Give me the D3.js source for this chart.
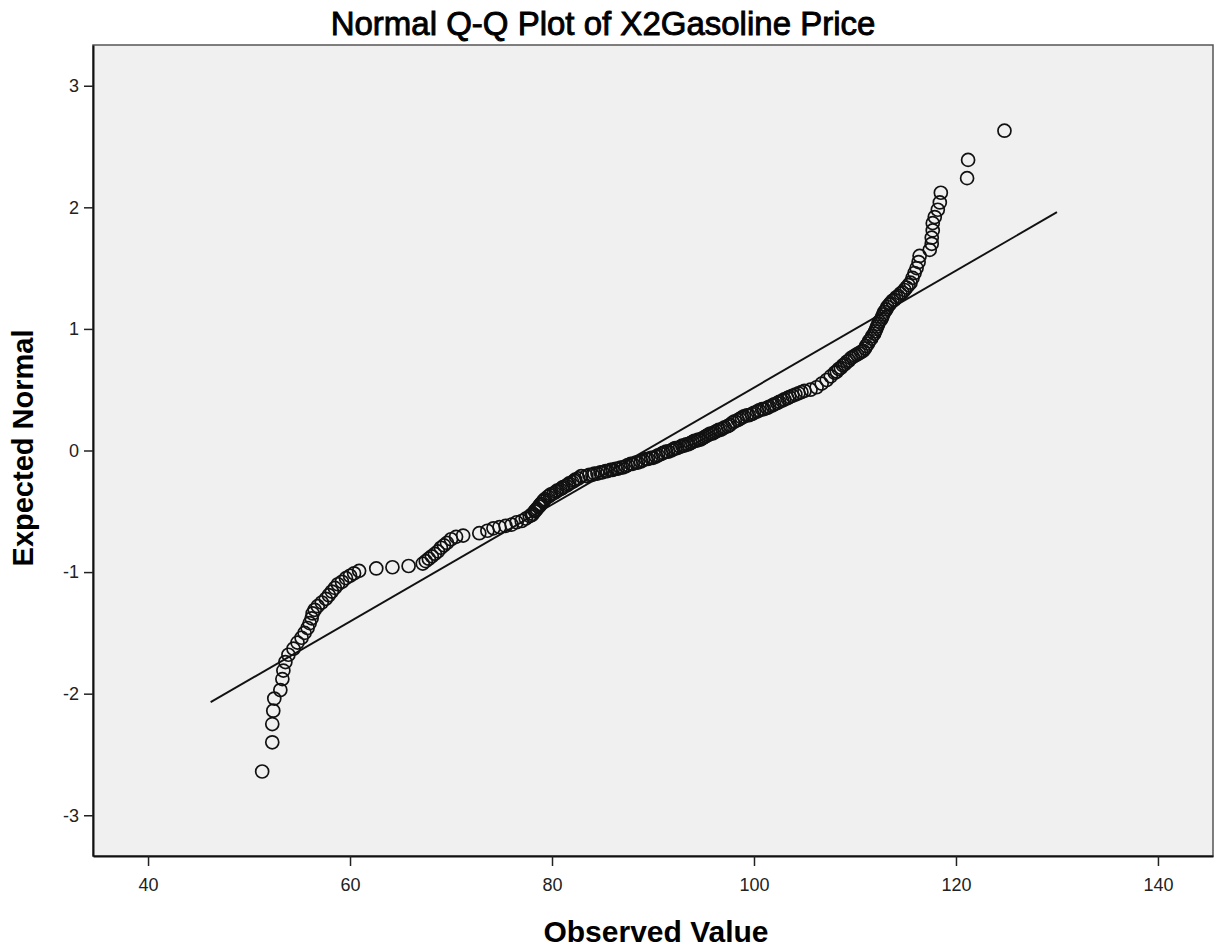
<!DOCTYPE html>
<html>
<head>
<meta charset="utf-8">
<script src="https://cdn.jsdelivr.net/npm/d3@7"></script>
<style>
  body { margin: 0; background: #fff; }
  text { font-family: "Liberation Sans", Arial, sans-serif; }
</style>
</head>
<body>
<svg id="chart" width="1217" height="947"></svg>
<script>
var observed = [
  51.3, 52.3, 52.3, 52.4, 52.5, 53.1, 53.3, 53.4, 53.6, 53.9,
  54.4, 54.8, 55.2, 55.5, 55.8, 56.0, 56.2, 56.3, 56.5, 56.8,
  57.2, 57.6, 57.9, 58.2, 58.5, 58.8, 59.2, 59.6, 60.0, 60.4,
  60.9, 62.6, 64.2, 65.8, 67.2, 67.5, 67.8, 68.1, 68.4, 68.7,
  69.0, 69.3, 69.6, 70.0, 70.5, 71.2, 72.8, 73.6, 74.2, 74.8,
  75.4, 76.0, 76.5, 77.0, 77.4, 77.8, 78.0, 78.1, 78.3, 78.4,
  78.5, 78.7, 78.8, 78.9, 79.1, 79.2, 79.3, 79.6, 79.8, 79.9,
  80.2, 80.4, 80.5, 80.8, 81.0, 81.1, 81.4, 81.6, 81.7, 82.0,
  82.2, 82.3, 82.6, 82.9, 83.4, 84.0, 84.5, 85.0, 85.5, 86.0,
  86.5, 87.0, 87.5, 88.0, 88.5, 89.0, 89.5, 90.0, 90.5, 91.0,
  91.5, 92.0, 92.4, 92.9, 93.3, 93.7, 94.1, 94.5, 94.9, 95.3,
  95.7, 96.1, 96.5, 96.9, 97.4, 97.9, 98.4, 98.8, 99.3, 99.8,
  100.3, 100.8, 101.3, 101.8, 102.3, 102.8, 103.3, 103.8, 104.4, 105.0,
  105.6, 106.2, 106.7, 107.2, 107.6, 108.0, 108.2, 108.4, 108.6, 108.8,
  109.0, 109.2, 109.4, 109.6, 109.8, 110.0, 110.2, 110.4, 110.6, 110.8,
  111.0, 111.1, 111.3, 111.4, 111.6, 111.7, 111.9, 112.0, 112.1, 112.2,
  112.3, 112.4, 112.6, 112.7, 112.8, 112.9, 113.1, 113.2, 113.4, 113.5,
  113.7, 113.9, 114.1, 114.3, 114.5, 114.7, 114.9, 115.1, 115.3, 115.5,
  115.7, 115.9, 116.1, 116.3, 116.4, 117.4, 117.6, 117.6, 117.7, 117.7,
  117.9, 118.2, 118.4, 118.5, 121.1, 121.2, 124.8,
  // extra points inside the dense middle band
  83.7, 84.2, 84.8, 85.3, 85.8, 86.3, 86.8, 87.3, 87.8, 88.3,
  88.8, 89.3, 89.8, 90.3, 90.8, 91.3, 91.8, 92.2, 92.7, 93.1,
  93.5, 93.9, 94.3, 94.7, 95.1, 95.5, 95.9, 96.3, 96.7, 97.1,
  97.6, 98.1, 98.6, 99.0, 99.5, 100.0, 100.5, 101.0, 101.5, 102.0,
  102.5, 103.0, 103.5, 104.1, 104.7
];
var expected = [
  -2.64, -2.40, -2.25, -2.14, -2.04, -1.97, -1.88, -1.81, -1.74, -1.68,
  -1.63, -1.58, -1.54, -1.50, -1.46, -1.42, -1.38, -1.34, -1.31, -1.28,
  -1.25, -1.22, -1.19, -1.16, -1.13, -1.10, -1.08, -1.05, -1.03, -1.01,
  -0.99, -0.97, -0.96, -0.95, -0.93, -0.91, -0.89, -0.87, -0.85, -0.83,
  -0.80, -0.78, -0.76, -0.73, -0.71, -0.70, -0.68, -0.66, -0.64, -0.63,
  -0.62, -0.61, -0.59, -0.58, -0.56, -0.54, -0.53, -0.52, -0.50, -0.49,
  -0.48, -0.46, -0.45, -0.44, -0.42, -0.41, -0.40, -0.38, -0.37, -0.36,
  -0.35, -0.34, -0.33, -0.32, -0.31, -0.30, -0.29, -0.28, -0.27, -0.26,
  -0.25, -0.24, -0.23, -0.21, -0.21, -0.20, -0.19, -0.18, -0.17, -0.16,
  -0.15, -0.14, -0.12, -0.11, -0.10, -0.08, -0.07, -0.06, -0.04, -0.02,
  -0.01, 0.01, 0.02, 0.04, 0.05, 0.06, 0.08, 0.09, 0.10, 0.12,
  0.14, 0.15, 0.17, 0.18, 0.20, 0.23, 0.25, 0.27, 0.29, 0.30,
  0.32, 0.34, 0.35, 0.37, 0.39, 0.41, 0.43, 0.45, 0.47, 0.49,
  0.50, 0.52, 0.55, 0.58, 0.61, 0.64, 0.65, 0.67, 0.68, 0.70,
  0.71, 0.73, 0.74, 0.76, 0.77, 0.78, 0.79, 0.80, 0.81, 0.82,
  0.84, 0.86, 0.88, 0.90, 0.92, 0.94, 0.96, 0.98, 1.00, 1.02,
  1.04, 1.06, 1.08, 1.10, 1.12, 1.14, 1.16, 1.18, 1.20, 1.21,
  1.23, 1.24, 1.26, 1.27, 1.29, 1.30, 1.32, 1.34, 1.36, 1.38,
  1.42, 1.46, 1.50, 1.55, 1.60, 1.65, 1.70, 1.75, 1.81, 1.87,
  1.92, 1.98, 2.04, 2.12, 2.24, 2.39, 2.63,
  -0.20, -0.19, -0.18, -0.17, -0.16, -0.15, -0.14, -0.13, -0.11, -0.10,
  -0.09, -0.07, -0.06, -0.05, -0.03, -0.01, 0.00, 0.02, 0.03, 0.04,
  0.05, 0.07, 0.08, 0.09, 0.11, 0.13, 0.14, 0.16, 0.17, 0.19,
  0.21, 0.24, 0.26, 0.28, 0.29, 0.31, 0.33, 0.34, 0.36, 0.38,
  0.40, 0.42, 0.44, 0.46, 0.48
];

// reference line end points
var lineObserved = [46.2, 130.0];
var lineExpected = [-2.07, 1.96];

var xTicks = [40, 60, 80, 100, 120, 140];
var yTicks = [-3, -2, -1, 0, 1, 2, 3];

var svg = d3.select("#chart");
var plotLeft = 93, plotRight = 1213, plotTop = 45, plotBottom = 856;

var x = d3.scaleLinear().domain([34.55, 145.45]).range([plotLeft, plotRight]);
var y = d3.scaleLinear().domain([-3.335, 3.335]).range([plotBottom, plotTop]);

// plot background
svg.append("rect")
  .attr("x", plotLeft).attr("y", plotTop)
  .attr("width", plotRight - plotLeft).attr("height", plotBottom - plotTop)
  .attr("fill", "#f0f0f0")
  .attr("stroke", "#555")
  .attr("stroke-width", 1.5);

// axes
var gx = svg.append("g")
  .attr("transform", "translate(0," + plotBottom + ")")
  .call(d3.axisBottom(x).tickValues(xTicks).tickSize(10).tickSizeOuter(0).tickPadding(12));
var gy = svg.append("g")
  .attr("transform", "translate(" + plotLeft + ",0)")
  .call(d3.axisLeft(y).tickValues(yTicks).tickSize(9).tickSizeOuter(0).tickPadding(5)
    .tickFormat(d3.format("d")));

[gx, gy].forEach(function (g) {
  g.select(".domain").attr("stroke", "#111").attr("stroke-width", 2);
  g.selectAll(".tick line").attr("stroke", "#222").attr("stroke-width", 1.5);
  g.selectAll(".tick text")
    .attr("fill", "#222")
    .style("font-size", "18px")
    .style("font-family", "'Liberation Sans', Arial, sans-serif");
});
gy.selectAll(".tick text").text(function (d) { return d < 0 ? "-" + Math.abs(d) : d; });

// reference line
svg.append("line")
  .attr("x1", x(lineObserved[0])).attr("y1", y(lineExpected[0]))
  .attr("x2", x(lineObserved[1])).attr("y2", y(lineExpected[1]))
  .attr("stroke", "#111")
  .attr("stroke-width", 1.9);

// points
svg.append("g")
  .selectAll("circle")
  .data(observed)
  .enter()
  .append("circle")
  .attr("cx", function (d) { return x(d); })
  .attr("cy", function (d, i) { return y(expected[i]); })
  .attr("r", 6.5)
  .attr("fill", "none")
  .attr("stroke", "#111")
  .attr("stroke-width", 1.7);

// titles
svg.append("text")
  .attr("x", 603).attr("y", 35)
  .attr("text-anchor", "middle")
  .style("font-size", "33px")
  .attr("fill", "#000")
  .attr("stroke", "#000")
  .attr("stroke-width", 0.9)
  .text("Normal Q-Q Plot of X2Gasoline Price");

svg.append("text")
  .attr("x", 656).attr("y", 942)
  .attr("text-anchor", "middle")
  .style("font-size", "30px")
  .style("font-weight", "bold")
  .attr("fill", "#000")
  .text("Observed Value");

svg.append("text")
  .attr("transform", "translate(33,448) rotate(-90)")
  .attr("text-anchor", "middle")
  .style("font-size", "29px")
  .style("font-weight", "bold")
  .attr("fill", "#000")
  .text("Expected Normal");
</script>
</body>
</html>
